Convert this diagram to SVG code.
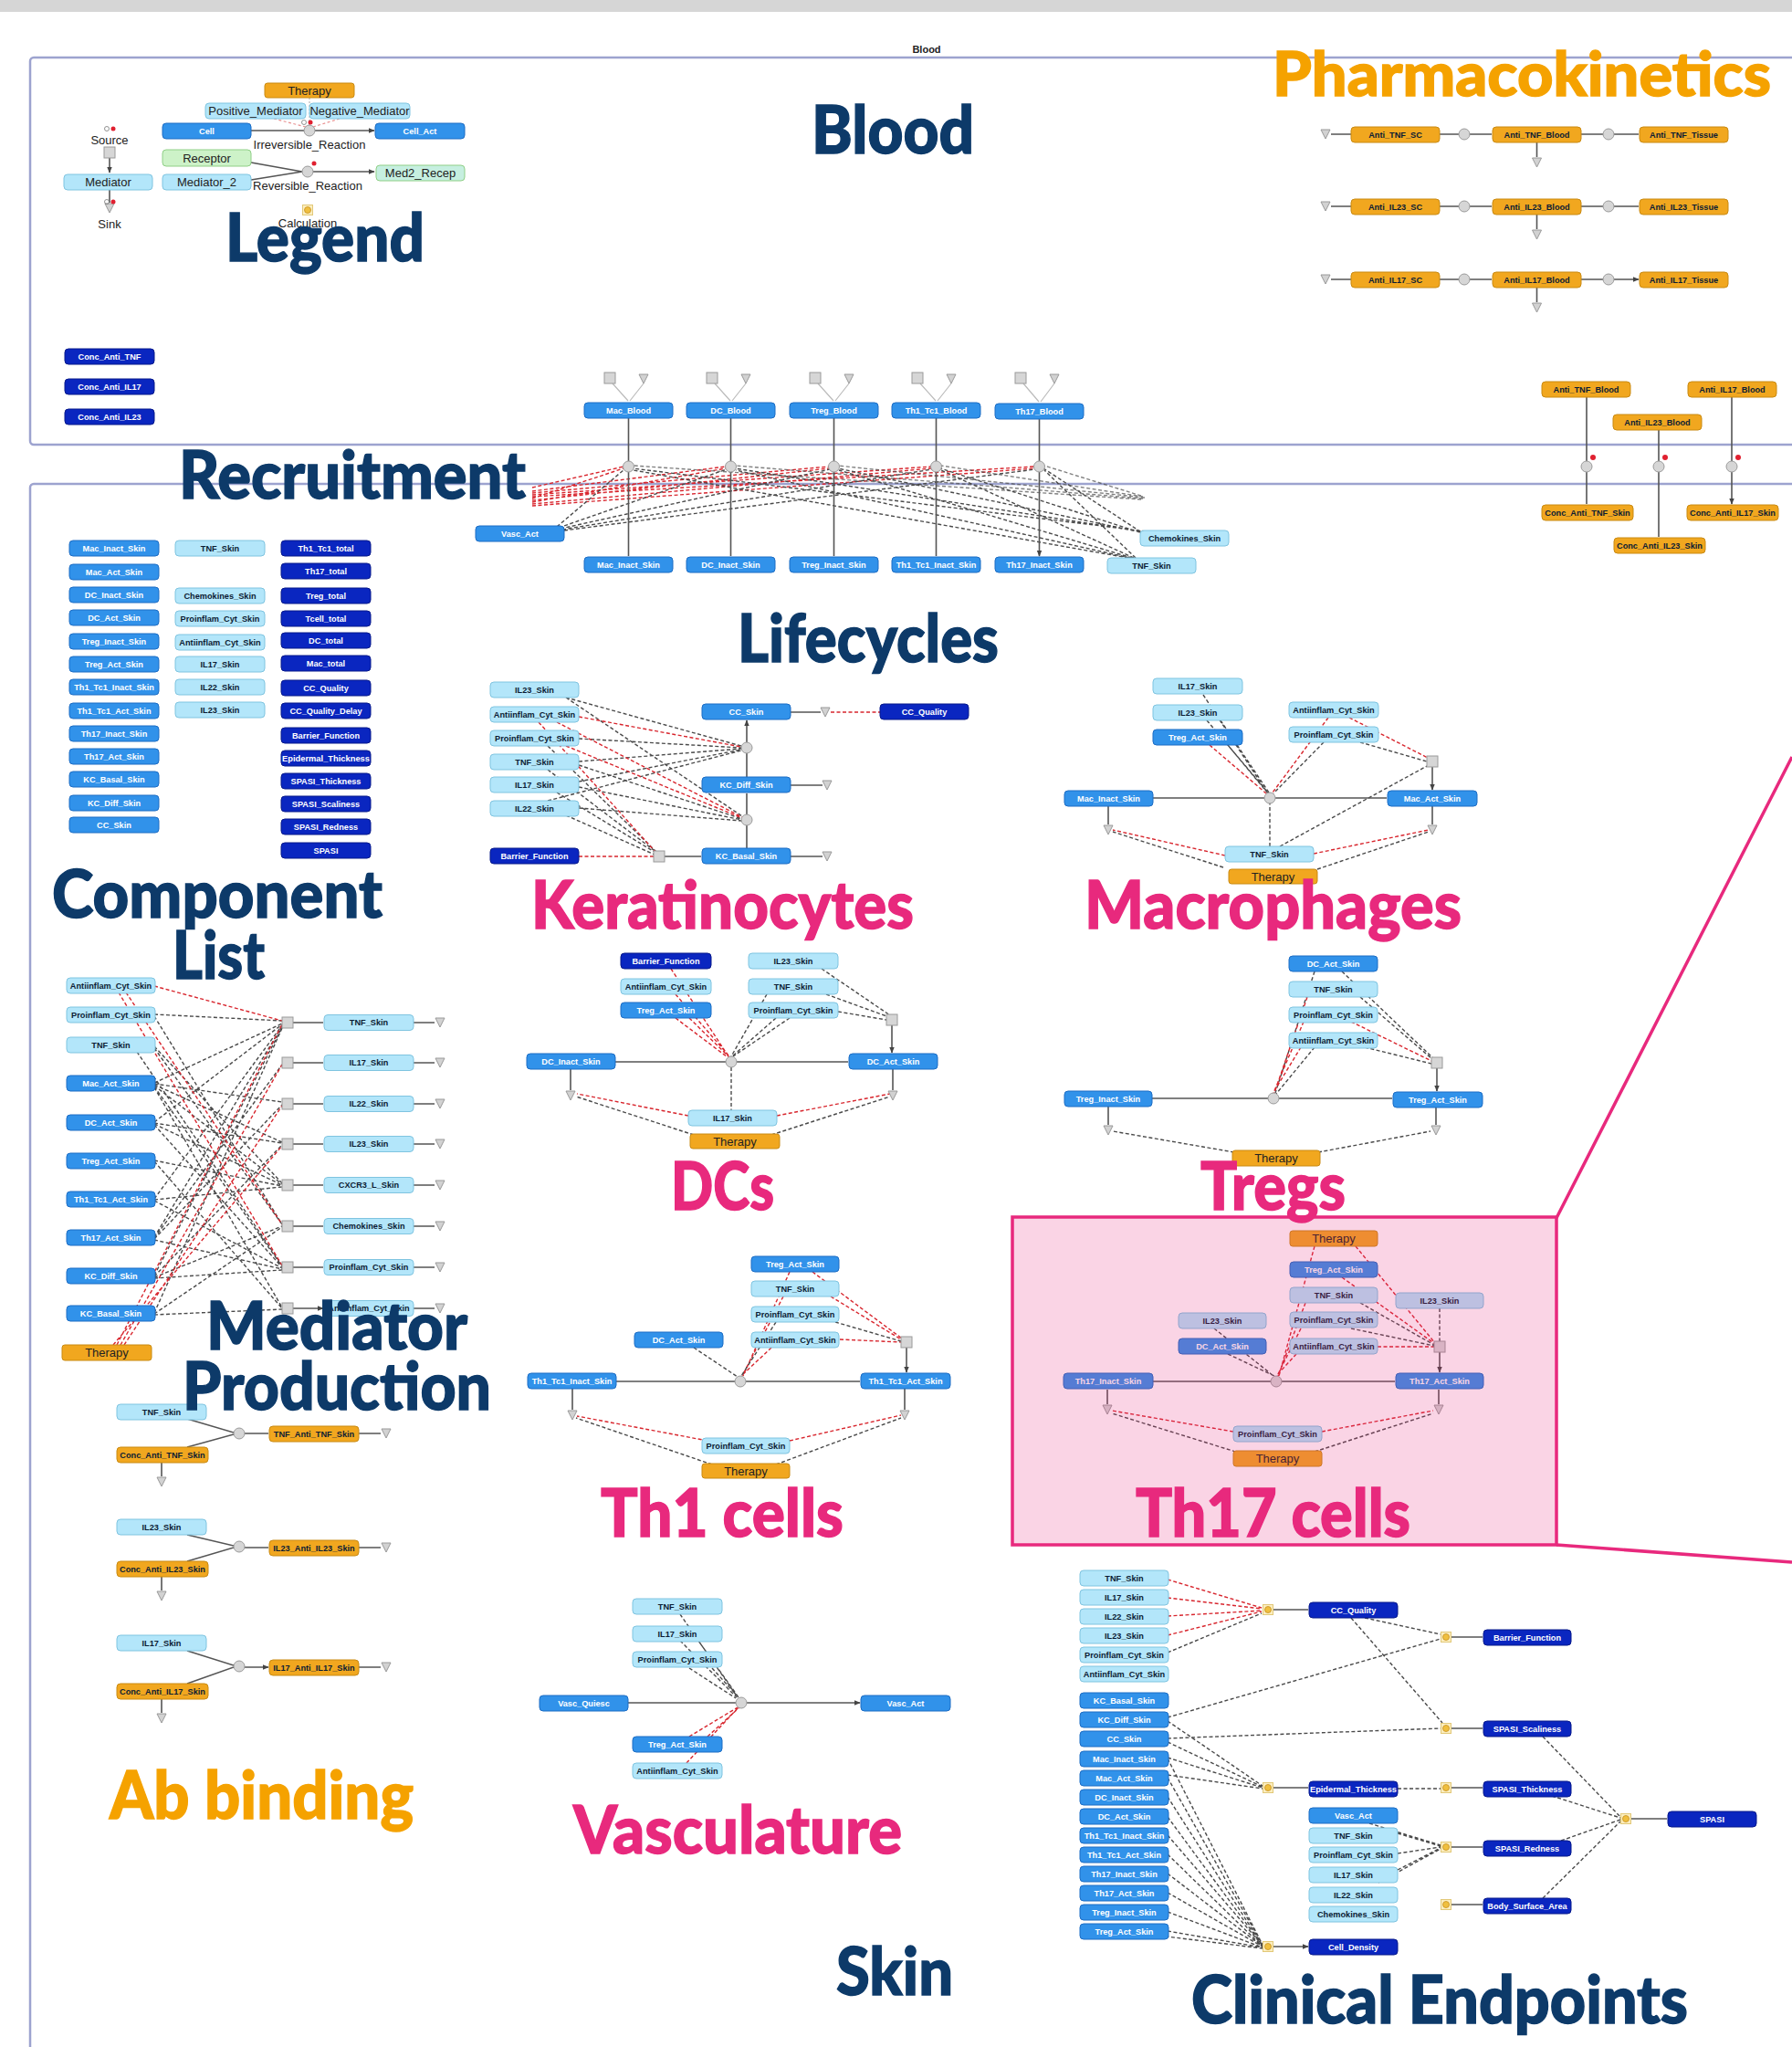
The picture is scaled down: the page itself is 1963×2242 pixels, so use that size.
<svg xmlns="http://www.w3.org/2000/svg" xmlns:xlink="http://www.w3.org/1999/xlink" width="1963" height="2242" viewBox="0 0 1963 2242">
<defs>
<style>
.lb{fill:#b3e6fa;stroke:#7fc4e0;stroke-width:1}
.mb{fill:#3192ea;stroke:#1c6cc4;stroke-width:1}
.db{fill:#0a26c0;stroke:#06188a;stroke-width:1}
.or{fill:#f1a71f;stroke:#c98a12;stroke-width:1}
.gn{fill:#cdf2c8;stroke:#8fcf86;stroke-width:1}
text.n{font-family:"Liberation Sans",Arial,sans-serif;font-weight:700;font-size:9.2px;text-anchor:middle;dominant-baseline:central}
.w{fill:#ffffff}
.k{fill:#0c1c34}
.lg{font-family:"Liberation Sans",Arial,sans-serif;font-size:13px;fill:#222;text-anchor:middle;dominant-baseline:central}
.sl{fill:none;stroke:#555;stroke-width:1.6}
.dk{fill:none;stroke:#4a4a4a;stroke-width:1.4;stroke-dasharray:4 2.5}
.dr{fill:none;stroke:#d8262e;stroke-width:1.4;stroke-dasharray:4 2.5}
.dp{fill:none;stroke:#e89090;stroke-width:1.2;stroke-dasharray:3 2.5}
.jn{fill:#d6d6d6;stroke:#9a9a9a;stroke-width:1}
.ti{font-family:Lato,"Open Sans",sans-serif;font-weight:900;font-size:72px;stroke-width:1.4}
.nv{fill:#0d3a69;stroke:#0d3a69}
.pk{fill:#e8297d;stroke:#e8297d}
.og{fill:#f5a200;stroke:#f5a200}
.box{fill:none;stroke:#9da3cf;stroke-width:2.5}
</style>
<marker id="a" viewBox="0 0 10 10" refX="9" refY="5" markerWidth="7" markerHeight="7" orient="auto" markerUnits="userSpaceOnUse"><path d="M0 1L10 5L0 9Z" fill="#444"/></marker>
<symbol id="sk" viewBox="0 0 12 12"><path d="M1 1H11L6 11Z" fill="#d2d2d2" stroke="#999" stroke-width="1"/></symbol>
<symbol id="cc" viewBox="0 0 12 12"><rect x="0.5" y="0.5" width="11" height="11" fill="#fbeec0" stroke="#e2c878"/><circle cx="6" cy="6" r="3.5" fill="#f0c040" stroke="#c89020" stroke-width="0.8"/></symbol>
</defs>
<rect x="0" y="0" width="1963" height="2242" fill="#ffffff"/>
<rect x="0" y="0" width="1963" height="13" fill="#d6d6d6"/>
<rect class="box" x="33" y="63" width="2000" height="424" rx="4"/>
<rect class="box" x="33" y="530" width="2000" height="1800" rx="4"/>
<text x="1015" y="58" font-family="Liberation Sans,Arial,sans-serif" font-size="11" font-weight="700" fill="#222" text-anchor="middle">Blood</text>

<g id="connectors">
<!-- Legend -->
<path class="sl" d="M275 143H333M345 143H410" marker-end="url(#a)"/>
<path class="dp" d="M300 130L335 139M372 130L343 139"/>
<path d="M339 107V137" stroke="#aaa" stroke-width="1" stroke-dasharray="2 2" fill="none"/>
<path class="sl" d="M275 178L331 188M275 197L331 188M343 188H410" marker-end="url(#a)"/>
<path class="sl" d="M120 173V189" marker-end="url(#a)"/>
<path class="sl" d="M120 208V222"/>
<circle class="jn" cx="339" cy="143" r="6"/>
<circle class="jn" cx="337" cy="188" r="6"/>
<rect class="jn" x="114" y="161" width="12" height="12"/>
<use href="#sk" x="114" y="222" width="12" height="12"/>
<use href="#cc" x="331" y="224" width="12" height="12"/>
<circle cx="333" cy="134" r="2.5" fill="none" stroke="#777" stroke-width="0.8"/><circle cx="340" cy="134" r="2.5" fill="#e02030"/>
<circle cx="117" cy="141" r="2.5" fill="none" stroke="#777" stroke-width="0.8"/><circle cx="124" cy="141" r="2.5" fill="#e02030"/>
<circle cx="117" cy="221" r="2.5" fill="none" stroke="#777" stroke-width="0.8"/><circle cx="124" cy="221" r="2.5" fill="#e02030"/>
<circle cx="344" cy="179" r="2.5" fill="#e02030"/>

<!-- PK -->
<path class="sl" d="M1610 147H1634M1768 147H1795M1610 226H1634M1768 226H1795M1610 306H1634M1768 306H1795" marker-end="url(#a)"/>
<path class="sl" d="M1458 147H1480M1577 147H1598M1732 147H1756M1458 226H1480M1577 226H1598M1732 226H1756M1458 306H1480M1577 306H1598M1732 306H1756"/>
<path class="sl" d="M1683.5 156V172M1683.5 235V251M1683.5 315V331"/>
<use href="#sk" x="1446" y="141" width="12" height="12"/>
<use href="#sk" x="1446" y="220" width="12" height="12"/>
<use href="#sk" x="1446" y="300" width="12" height="12"/>
<use href="#sk" x="1677.5" y="172" width="12" height="12"/>
<use href="#sk" x="1677.5" y="251" width="12" height="12"/>
<use href="#sk" x="1677.5" y="331" width="12" height="12"/>
<circle class="jn" cx="1604" cy="147" r="6"/><circle class="jn" cx="1762" cy="147" r="6"/>
<circle class="jn" cx="1604" cy="226" r="6"/><circle class="jn" cx="1762" cy="226" r="6"/>
<circle class="jn" cx="1604" cy="306" r="6"/><circle class="jn" cx="1762" cy="306" r="6"/>
<path class="sl" d="M1738 435V505M1738 517V552M1817 471V505M1817 517V588M1897 435V505M1897 517V552" marker-end="url(#a)"/>
<circle class="jn" cx="1738" cy="511" r="6"/><circle class="jn" cx="1817" cy="511" r="6"/><circle class="jn" cx="1897" cy="511" r="6"/>
<circle cx="1745" cy="501" r="3" fill="#e02030"/><circle cx="1824" cy="501" r="3" fill="#e02030"/><circle cx="1904" cy="501" r="3" fill="#e02030"/>

<!-- Recruitment -->
<path class="dr" d="M583 534L683 511M583 546L683 513M583 538L795 511M583 550L795 513M583 540L908 511M583 548L908 513M583 542L1020 511M583 552L1020 513M583 544L1133 511M583 554L1133 513"/>
<path class="dk" d="M610 577L684 514M612 578L796 514M614 579L909 514M616 580L1021 514M618 581L1134 514"/>
<path class="dk" d="M1255 582L693 513M1255 583L805 513M1255 584L918 513M1255 585L1030 513M1255 586L1143 513"/>
<path class="dk" d="M1236 611L694 515M1238 611L806 515M1240 611L919 515M1242 611L1031 515M1244 611L1144 515"/>
<path class="dk" d="M1250 547L694 510M1252 546L806 510M1254 545L918 510M1252 544L1031 510M1250 543L1144 510" opacity="0.7"/>
<path class="sl" d="M688.5 458V609M800.5 458V609M913.5 458V609M1025.5 458V609M1138.5 459V609" marker-end="url(#a)"/>
<path d="M671 420L688 439M705 420L690 439M783 420L800 439M817 420L802 439M896 420L913 439M930 420L915 439M1008 420L1025 439M1042 420L1027 439M1121 420L1138 440M1155 420L1140 440" stroke="#bbb" stroke-width="1.2" fill="none"/>
<rect class="jn" x="662" y="408" width="12" height="12"/><use href="#sk" x="699" y="409" width="12" height="12"/>
<rect class="jn" x="774" y="408" width="12" height="12"/><use href="#sk" x="811" y="409" width="12" height="12"/>
<rect class="jn" x="887" y="408" width="12" height="12"/><use href="#sk" x="924" y="409" width="12" height="12"/>
<rect class="jn" x="999" y="408" width="12" height="12"/><use href="#sk" x="1036" y="409" width="12" height="12"/>
<rect class="jn" x="1112" y="408" width="12" height="12"/><use href="#sk" x="1149" y="409" width="12" height="12"/>
<circle class="jn" cx="688.5" cy="511" r="6"/><circle class="jn" cx="800.5" cy="511" r="6"/><circle class="jn" cx="913.5" cy="511" r="6"/><circle class="jn" cx="1025.5" cy="511" r="6"/><circle class="jn" cx="1138.5" cy="511" r="6"/>

<!-- Keratinocytes -->
<path class="dk" d="M620 764L812 817M620 764L813 894M634 809L812 819M600 817L719 933M634 834L812 820M634 838L813 897M600 843L720 934M634 856L812 821M634 862L813 898M610 868L720 935M600 877L812 822M634 885L813 899M620 893L717 936"/>
<path class="dr" d="M634 785L812 818M610 791L813 895M590 791L718 933M620 817L813 896M634 938L716 938M910 780L964 780"/>
<path class="sl" d="M728 938H768M818 929V904M818 892V869M818 851V825M818 813V789" marker-end="url(#a)"/>
<path class="sl" d="M866 780H899M866 860H901M866 938H901"/>
<circle class="jn" cx="818" cy="819" r="6"/><circle class="jn" cx="818" cy="898" r="6"/>
<rect class="jn" x="716" y="932" width="12" height="12"/>
<use href="#sk" x="898" y="774" width="12" height="12"/>
<use href="#sk" x="900" y="854" width="12" height="12"/>
<use href="#sk" x="900" y="932" width="12" height="12"/>

<!-- Macrophages -->
<path class="dk" d="M1318 761L1388 868M1322 789L1389 868M1337 789L1390 868M1345 816L1389 869M1450 813L1395 869M1490 813L1563 834M1402 927L1565 838M1391 927V880M1340 950L1219 911M1443 952L1565 911"/>
<path class="dr" d="M1325 816L1387 869M1455 786L1394 868M1478 786L1564 830M1342 937L1219 909M1439 935L1565 909"/>
<path class="sl" d="M1263 874H1385M1397 874H1519M1569 840V865" marker-end="url(#a)"/>
<path class="sl" d="M1214 883V903M1569 883V903"/>
<circle class="jn" cx="1391" cy="874" r="6"/>
<rect class="jn" x="1563" y="828" width="12" height="12"/>
<use href="#sk" x="1208" y="903" width="12" height="12"/>
<use href="#sk" x="1563" y="903" width="12" height="12"/>

<!-- DCs -->
<path class="dr" d="M735 1061L798 1157M740 1089L799 1157M740 1115L797 1158M755 1115L799 1158M754 1222L632 1198M851 1222L975 1198"/>
<path class="dk" d="M850 1115L802 1157M865 1115L803 1157M840 1089L801 1157M900 1061L975 1112M905 1089L974 1114M918 1108L971 1117M801 1169V1216M760 1243L631 1201M845 1243L975 1201"/>
<path class="sl" d="M674 1163H795M807 1163H929M977 1123V1153" marker-end="url(#a)"/>
<path class="sl" d="M625 1171V1194M978 1171V1194"/>
<circle class="jn" cx="801" cy="1163" r="6"/>
<rect class="jn" x="971" y="1111" width="12" height="12"/>
<use href="#sk" x="619" y="1194" width="12" height="12"/>
<use href="#sk" x="972" y="1194" width="12" height="12"/>

<!-- Tregs -->
<path class="dk" d="M1440 1064L1397 1197M1440 1147L1398 1198M1470 1064L1570 1159M1490 1092L1569 1160M1495 1147L1568 1165M1352 1262L1219 1239M1444 1262L1567 1239"/>
<path class="dr" d="M1432 1092L1396 1197M1428 1119L1395 1197M1425 1147L1394 1198M1480 1119L1568 1162"/>
<path class="sl" d="M1262 1203H1389M1401 1203H1525M1574 1170V1195" marker-end="url(#a)"/>
<path class="sl" d="M1214 1212V1232M1573 1213V1232"/>
<circle class="jn" cx="1395" cy="1203" r="6"/>
<rect class="jn" x="1568" y="1158" width="12" height="12"/>
<use href="#sk" x="1208" y="1232" width="12" height="12"/>
<use href="#sk" x="1567" y="1232" width="12" height="12"/>

<!-- Th1 -->
<path class="dr" d="M865 1393L814 1507M858 1420L813 1507M845 1476L812 1507M890 1393L988 1466M910 1420L987 1467M920 1467L987 1470M775 1578L632 1551M865 1578L987 1550"/>
<path class="dk" d="M850 1448L812 1507M760 1476L808 1508M915 1448L987 1469M780 1604L631 1553M850 1604L987 1553"/>
<path class="sl" d="M675 1513H805M817 1513H942M993 1476V1503" marker-end="url(#a)"/>
<path class="sl" d="M627 1521V1544M991 1521V1544"/>
<circle class="jn" cx="811" cy="1513" r="6"/>
<rect class="jn" x="987" y="1464" width="12" height="12"/>
<use href="#sk" x="621" y="1544" width="12" height="12"/>
<use href="#sk" x="985" y="1544" width="12" height="12"/>

<!-- Th17 -->
<path class="dr" d="M1440 1365L1401 1507M1485 1365L1572 1471M1470 1399L1572 1472M1509 1475L1571 1475M1430 1427L1400 1507M1425 1455L1399 1507M1420 1483L1398 1507M1351 1568L1218 1545M1448 1568L1570 1545"/>
<path class="dk" d="M1490 1427L1571 1473M1480 1455L1571 1474M1577 1433V1469M1330 1455L1395 1507M1345 1483L1396 1507M1360 1592L1218 1548M1440 1590L1570 1548"/>
<path class="sl" d="M1263 1513H1392M1404 1513H1528M1577 1481V1503" marker-end="url(#a)"/>
<path class="sl" d="M1213 1522V1538M1576 1522V1538"/>
<circle class="jn" cx="1398" cy="1513" r="6"/>
<rect class="jn" x="1571" y="1469" width="12" height="12"/>
<use href="#sk" x="1207" y="1538" width="12" height="12"/>
<use href="#sk" x="1570" y="1538" width="12" height="12"/>

<!-- Vasculature -->
<path class="dk" d="M745 1768L808 1859M745 1797L807 1859M765 1797L809 1859M755 1827L806 1860M780 1827L809 1859"/>
<path class="dr" d="M755 1902L808 1870M775 1902L810 1870M752 1931L809 1870"/>
<path class="sl" d="M688 1865H806M818 1865H942" marker-end="url(#a)"/>
<circle class="jn" cx="812" cy="1865" r="6"/>

<!-- Mediator production -->
<path class="dk" d="M169 1111L309 1118M169 1113L309 1341M169 1146L309 1296M169 1148L309 1341M150 1152L309 1386M169 1186L309 1121M169 1187L309 1207M169 1188L309 1251M169 1189L309 1297M169 1190L309 1387M169 1191L309 1432M169 1229L309 1122M169 1230L309 1252M169 1231L309 1298M169 1232L309 1388M169 1271L309 1299M169 1272L309 1433M169 1313L309 1123M169 1314L309 1300M169 1315L309 1389M169 1355L309 1124M169 1356L309 1166M169 1357L309 1210M169 1358L309 1390M169 1397L309 1125M169 1398L309 1254M169 1399L309 1343M169 1400L309 1391M169 1438L309 1126M169 1439L309 1344M169 1440L309 1434"/>
<path class="dr" d="M169 1080L309 1118M130 1087L309 1386M138 1087L309 1341M128 1473L309 1122M132 1473L309 1166M136 1473L309 1211M124 1473L309 1255"/>
<path class="sl" d="M321 1120H354M321 1164H354M321 1209H354M321 1253H354M321 1298H354M321 1343H354M321 1388H354M321 1433H354" marker-end="url(#a)"/>
<path class="sl" d="M453 1120H476M453 1164H476M453 1209H476M453 1253H476M453 1298H476M453 1343H476M453 1388H476M453 1433H476"/>
<rect class="jn" x="309" y="1114" width="12" height="12"/><rect class="jn" x="309" y="1158" width="12" height="12"/><rect class="jn" x="309" y="1203" width="12" height="12"/><rect class="jn" x="309" y="1247" width="12" height="12"/><rect class="jn" x="309" y="1292" width="12" height="12"/><rect class="jn" x="309" y="1337" width="12" height="12"/><rect class="jn" x="309" y="1382" width="12" height="12"/><rect class="jn" x="309" y="1427" width="12" height="12"/>
<use href="#sk" x="476" y="1114" width="12" height="12"/><use href="#sk" x="476" y="1158" width="12" height="12"/><use href="#sk" x="476" y="1203" width="12" height="12"/><use href="#sk" x="476" y="1247" width="12" height="12"/><use href="#sk" x="476" y="1292" width="12" height="12"/><use href="#sk" x="476" y="1337" width="12" height="12"/><use href="#sk" x="476" y="1382" width="12" height="12"/><use href="#sk" x="476" y="1427" width="12" height="12"/>

<!-- Ab binding -->
<path class="sl" d="M205 1554L256 1569M205 1585L256 1571M205 1681L256 1693M205 1710L256 1695M205 1808L256 1824M205 1844L256 1826"/>
<path class="sl" d="M268 1570H294M268 1695H294M268 1826H294" marker-end="url(#a)"/>
<path class="sl" d="M393 1570H417M393 1695H417M393 1826H417M177 1602V1617M177 1727V1742M177 1861V1876"/>
<circle class="jn" cx="262" cy="1570" r="6"/><circle class="jn" cx="262" cy="1694" r="6"/><circle class="jn" cx="262" cy="1825" r="6"/>
<use href="#sk" x="417" y="1564" width="12" height="12"/><use href="#sk" x="417" y="1689" width="12" height="12"/><use href="#sk" x="417" y="1820" width="12" height="12"/>
<use href="#sk" x="171" y="1617" width="12" height="12"/><use href="#sk" x="171" y="1742" width="12" height="12"/><use href="#sk" x="171" y="1876" width="12" height="12"/>

<!-- Clinical endpoints -->
<path class="dr" d="M1279 1730L1382 1761M1279 1750L1382 1762M1279 1770L1382 1764M1279 1791L1382 1765"/>
<path class="dk" d="M1279 1810L1382 1767M1495 1772L1578 1790M1279 1881L1578 1795M1480 1772L1580 1887M1279 1904L1578 1893M1279 1885L1383 1956M1279 1908L1383 1957M1279 1925L1383 1958M1279 1944L1383 1959M1531 1959H1578M1500 1997L1578 2021M1531 2008L1578 2022M1531 2030L1578 2023M1531 2048L1578 2024M1510 2062L1578 2025M1690 1902L1775 1990M1700 1967L1775 1991M1710 2016L1775 1993M1690 2079L1775 1995M1279 1926L1383 2130M1279 1947L1383 2130M1279 1968L1383 2131M1279 1990L1383 2131M1279 2010L1383 2131M1279 2031L1383 2132M1279 2052L1383 2132M1279 2073L1383 2132M1279 2094L1383 2133M1279 2115L1383 2133M1270 2120L1383 2134"/>
<path class="sl" d="M1395 1763H1433M1590 1793H1624M1590 1893H1624M1395 1958H1433M1590 1958H1624M1590 2023H1624M1590 2086H1624M1787 1992H1826M1395 2132H1433" marker-end="url(#a)"/>
<use href="#cc" x="1383" y="1757" width="12" height="12"/>
<use href="#cc" x="1578" y="1787" width="12" height="12"/>
<use href="#cc" x="1578" y="1887" width="12" height="12"/>
<use href="#cc" x="1383" y="1952" width="12" height="12"/>
<use href="#cc" x="1578" y="1952" width="12" height="12"/>
<use href="#cc" x="1578" y="2017" width="12" height="12"/>
<use href="#cc" x="1578" y="2080" width="12" height="12"/>
<use href="#cc" x="1775" y="1986" width="12" height="12"/>
<use href="#cc" x="1383" y="2126" width="12" height="12"/>
</g>

<!-- ===== Legend nodes ===== -->
<g id="lg-therapy"><rect class="or" x="290" y="91" width="98" height="16" rx="3"/><text class="lg" x="339" y="99">Therapy</text></g>
<g id="lg-pos"><rect class="lb" x="225" y="113" width="110" height="17" rx="4"/><text class="lg" x="280" y="121.5">Positive_Mediator</text></g>
<g id="lg-neg"><rect class="lb" x="339" y="113" width="110" height="17" rx="4"/><text class="lg" x="394" y="121.5">Negative_Mediator</text></g>
<g id="lg-cell"><rect class="mb" x="178" y="135" width="97" height="17" rx="4"/><text class="n w" x="226.5" y="143.5">Cell</text></g>
<g id="lg-cellact"><rect class="mb" x="411" y="135" width="98" height="17" rx="4"/><text class="n w" x="460" y="143.5">Cell_Act</text></g>
<text class="lg" x="339" y="158">Irreversible_Reaction</text>
<g id="lg-rec"><rect class="gn" x="178" y="164" width="97" height="18" rx="4"/><text class="lg" x="226.5" y="173">Receptor</text></g>
<g id="lg-med2"><rect class="lb" x="178" y="191" width="97" height="17" rx="4"/><text class="lg" x="226.5" y="199.5">Mediator_2</text></g>
<g id="lg-med2rec"><rect x="412" y="181" width="97" height="17" rx="4" fill="#c6efe0" stroke="#8fcf86"/><text class="lg" x="460.5" y="189.5">Med2_Recep</text></g>
<text class="lg" x="337" y="203">Reversible_Reaction</text>
<text class="lg" x="337" y="244" font-size="11.5">Calculation</text>
<text class="lg" x="120" y="153">Source</text>
<g id="lg-med"><rect class="lb" x="70" y="191" width="97" height="17" rx="4"/><text class="lg" x="118.5" y="199.5">Mediator</text></g>
<text class="lg" x="120" y="245" font-size="11.5">Sink</text>
<g id="conc-tnf"><rect class="db" x="71" y="382" width="98" height="17" rx="4"/><text class="n w" x="120" y="390.5">Conc_Anti_TNF</text></g>
<g id="conc-il17"><rect class="db" x="71" y="415" width="98" height="17" rx="4"/><text class="n w" x="120" y="423.5">Conc_Anti_IL17</text></g>
<g id="conc-il23"><rect class="db" x="71" y="448" width="98" height="17" rx="4"/><text class="n w" x="120" y="456.5">Conc_Anti_IL23</text></g>

<!-- ===== PK nodes ===== -->
<g id="pk-tnf-sc"><rect class="or" x="1480" y="139" width="97" height="17" rx="4"/><text class="n k" x="1528.5" y="147.5">Anti_TNF_SC</text></g>
<g id="pk-tnf-bl"><rect class="or" x="1635" y="139" width="97" height="17" rx="4"/><text class="n k" x="1683.5" y="147.5">Anti_TNF_Blood</text></g>
<g id="pk-tnf-ti"><rect class="or" x="1796" y="139" width="97" height="17" rx="4"/><text class="n k" x="1844.5" y="147.5">Anti_TNF_Tissue</text></g>
<g id="pk-il23-sc"><rect class="or" x="1480" y="218" width="97" height="17" rx="4"/><text class="n k" x="1528.5" y="226.5">Anti_IL23_SC</text></g>
<g id="pk-il23-bl"><rect class="or" x="1635" y="218" width="97" height="17" rx="4"/><text class="n k" x="1683.5" y="226.5">Anti_IL23_Blood</text></g>
<g id="pk-il23-ti"><rect class="or" x="1796" y="218" width="97" height="17" rx="4"/><text class="n k" x="1844.5" y="226.5">Anti_IL23_Tissue</text></g>
<g id="pk-il17-sc"><rect class="or" x="1480" y="298" width="97" height="17" rx="4"/><text class="n k" x="1528.5" y="306.5">Anti_IL17_SC</text></g>
<g id="pk-il17-bl"><rect class="or" x="1635" y="298" width="97" height="17" rx="4"/><text class="n k" x="1683.5" y="306.5">Anti_IL17_Blood</text></g>
<g id="pk-il17-ti"><rect class="or" x="1796" y="298" width="97" height="17" rx="4"/><text class="n k" x="1844.5" y="306.5">Anti_IL17_Tissue</text></g>
<g id="pk2-tnf-bl"><rect class="or" x="1689" y="418" width="97" height="17" rx="4"/><text class="n k" x="1737.5" y="426.5">Anti_TNF_Blood</text></g>
<g id="pk2-il17-bl"><rect class="or" x="1849" y="418" width="97" height="17" rx="4"/><text class="n k" x="1897.5" y="426.5">Anti_IL17_Blood</text></g>
<g id="pk2-il23-bl"><rect class="or" x="1767" y="454" width="97" height="17" rx="4"/><text class="n k" x="1815.5" y="462.5">Anti_IL23_Blood</text></g>
<g id="pk2-conc-tnf"><rect class="or" x="1689" y="553" width="100" height="17" rx="4"/><text class="n k" x="1739" y="561.5">Conc_Anti_TNF_Skin</text></g>
<g id="pk2-conc-il17"><rect class="or" x="1848" y="553" width="100" height="17" rx="4"/><text class="n k" x="1898" y="561.5">Conc_Anti_IL17_Skin</text></g>
<g id="pk2-conc-il23"><rect class="or" x="1768" y="589" width="100" height="17" rx="4"/><text class="n k" x="1818" y="597.5">Conc_Anti_IL23_Skin</text></g>

<!-- ===== Recruitment nodes ===== -->
<g id="rc-mac-bl"><rect class="mb" x="640" y="441" width="97" height="17" rx="4"/><text class="n w" x="688.5" y="449.5">Mac_Blood</text></g>
<g id="rc-dc-bl"><rect class="mb" x="752" y="441" width="97" height="17" rx="4"/><text class="n w" x="800.5" y="449.5">DC_Blood</text></g>
<g id="rc-treg-bl"><rect class="mb" x="865" y="441" width="97" height="17" rx="4"/><text class="n w" x="913.5" y="449.5">Treg_Blood</text></g>
<g id="rc-th1-bl"><rect class="mb" x="977" y="441" width="97" height="17" rx="4"/><text class="n w" x="1025.5" y="449.5">Th1_Tc1_Blood</text></g>
<g id="rc-th17-bl"><rect class="mb" x="1090" y="442" width="97" height="17" rx="4"/><text class="n w" x="1138.5" y="450.5">Th17_Blood</text></g>
<g id="rc-mac-in"><rect class="mb" x="640" y="610" width="97" height="17" rx="4"/><text class="n w" x="688.5" y="618.5">Mac_Inact_Skin</text></g>
<g id="rc-dc-in"><rect class="mb" x="752" y="610" width="97" height="17" rx="4"/><text class="n w" x="800.5" y="618.5">DC_Inact_Skin</text></g>
<g id="rc-treg-in"><rect class="mb" x="865" y="610" width="97" height="17" rx="4"/><text class="n w" x="913.5" y="618.5">Treg_Inact_Skin</text></g>
<g id="rc-th1-in"><rect class="mb" x="977" y="610" width="97" height="17" rx="4"/><text class="n w" x="1025.5" y="618.5">Th1_Tc1_Inact_Skin</text></g>
<g id="rc-th17-in"><rect class="mb" x="1090" y="610" width="97" height="17" rx="4"/><text class="n w" x="1138.5" y="618.5">Th17_Inact_Skin</text></g>
<g id="rc-vasc"><rect class="mb" x="521" y="576" width="97" height="17" rx="4"/><text class="n w" x="569.5" y="584.5">Vasc_Act</text></g>
<g id="rc-chem"><rect class="lb" x="1249" y="581" width="97" height="17" rx="4"/><text class="n k" x="1297.5" y="589.5">Chemokines_Skin</text></g>
<g id="rc-tnf"><rect class="lb" x="1213" y="611" width="97" height="17" rx="4"/><text class="n k" x="1261.5" y="619.5">TNF_Skin</text></g>

<!-- ===== Component list ===== -->
<g id="cl-1"><rect class="mb" x="76" y="592" width="98" height="17" rx="4"/><text class="n w" x="125" y="600.5">Mac_Inact_Skin</text></g>
<g id="cl-2"><rect class="mb" x="76" y="618" width="98" height="17" rx="4"/><text class="n w" x="125" y="626.5">Mac_Act_Skin</text></g>
<g id="cl-3"><rect class="mb" x="76" y="643" width="98" height="17" rx="4"/><text class="n w" x="125" y="651.5">DC_Inact_Skin</text></g>
<g id="cl-4"><rect class="mb" x="76" y="668" width="98" height="17" rx="4"/><text class="n w" x="125" y="676.5">DC_Act_Skin</text></g>
<g id="cl-5"><rect class="mb" x="76" y="694" width="98" height="17" rx="4"/><text class="n w" x="125" y="702.5">Treg_Inact_Skin</text></g>
<g id="cl-6"><rect class="mb" x="76" y="719" width="98" height="17" rx="4"/><text class="n w" x="125" y="727.5">Treg_Act_Skin</text></g>
<g id="cl-7"><rect class="mb" x="76" y="744" width="98" height="17" rx="4"/><text class="n w" x="125" y="752.5">Th1_Tc1_Inact_Skin</text></g>
<g id="cl-8"><rect class="mb" x="76" y="770" width="98" height="17" rx="4"/><text class="n w" x="125" y="778.5">Th1_Tc1_Act_Skin</text></g>
<g id="cl-9"><rect class="mb" x="76" y="795" width="98" height="17" rx="4"/><text class="n w" x="125" y="803.5">Th17_Inact_Skin</text></g>
<g id="cl-10"><rect class="mb" x="76" y="820" width="98" height="17" rx="4"/><text class="n w" x="125" y="828.5">Th17_Act_Skin</text></g>
<g id="cl-11"><rect class="mb" x="76" y="845" width="98" height="17" rx="4"/><text class="n w" x="125" y="853.5">KC_Basal_Skin</text></g>
<g id="cl-12"><rect class="mb" x="76" y="871" width="98" height="17" rx="4"/><text class="n w" x="125" y="879.5">KC_Diff_Skin</text></g>
<g id="cl-13"><rect class="mb" x="76" y="895" width="98" height="17" rx="4"/><text class="n w" x="125" y="903.5">CC_Skin</text></g>
<g id="cl-14"><rect class="lb" x="192" y="592" width="98" height="17" rx="4"/><text class="n k" x="241" y="600.5">TNF_Skin</text></g>
<g id="cl-15"><rect class="lb" x="192" y="644" width="98" height="17" rx="4"/><text class="n k" x="241" y="652.5">Chemokines_Skin</text></g>
<g id="cl-16"><rect class="lb" x="192" y="669" width="98" height="17" rx="4"/><text class="n k" x="241" y="677.5">Proinflam_Cyt_Skin</text></g>
<g id="cl-17"><rect class="lb" x="192" y="695" width="98" height="17" rx="4"/><text class="n k" x="241" y="703.5">Antiinflam_Cyt_Skin</text></g>
<g id="cl-18"><rect class="lb" x="192" y="719" width="98" height="17" rx="4"/><text class="n k" x="241" y="727.5">IL17_Skin</text></g>
<g id="cl-19"><rect class="lb" x="192" y="744" width="98" height="17" rx="4"/><text class="n k" x="241" y="752.5">IL22_Skin</text></g>
<g id="cl-20"><rect class="lb" x="192" y="769" width="98" height="17" rx="4"/><text class="n k" x="241" y="777.5">IL23_Skin</text></g>
<g id="cl-21"><rect class="db" x="308" y="592" width="98" height="17" rx="4"/><text class="n w" x="357" y="600.5">Th1_Tc1_total</text></g>
<g id="cl-22"><rect class="db" x="308" y="617" width="98" height="17" rx="4"/><text class="n w" x="357" y="625.5">Th17_total</text></g>
<g id="cl-23"><rect class="db" x="308" y="644" width="98" height="17" rx="4"/><text class="n w" x="357" y="652.5">Treg_total</text></g>
<g id="cl-24"><rect class="db" x="308" y="669" width="98" height="17" rx="4"/><text class="n w" x="357" y="677.5">Tcell_total</text></g>
<g id="cl-25"><rect class="db" x="308" y="693" width="98" height="17" rx="4"/><text class="n w" x="357" y="701.5">DC_total</text></g>
<g id="cl-26"><rect class="db" x="308" y="718" width="98" height="17" rx="4"/><text class="n w" x="357" y="726.5">Mac_total</text></g>
<g id="cl-27"><rect class="db" x="308" y="745" width="98" height="17" rx="4"/><text class="n w" x="357" y="753.5">CC_Quality</text></g>
<g id="cl-28"><rect class="db" x="308" y="770" width="98" height="17" rx="4"/><text class="n w" x="357" y="778.5">CC_Quality_Delay</text></g>
<g id="cl-29"><rect class="db" x="308" y="797" width="98" height="17" rx="4"/><text class="n w" x="357" y="805.5">Barrier_Function</text></g>
<g id="cl-30"><rect class="db" x="308" y="822" width="98" height="17" rx="4"/><text class="n w" x="357" y="830.5" textLength="96" lengthAdjust="spacingAndGlyphs">Epidermal_Thickness</text></g>
<g id="cl-31"><rect class="db" x="308" y="847" width="98" height="17" rx="4"/><text class="n w" x="357" y="855.5">SPASI_Thickness</text></g>
<g id="cl-32"><rect class="db" x="308" y="872" width="98" height="17" rx="4"/><text class="n w" x="357" y="880.5">SPASI_Scaliness</text></g>
<g id="cl-33"><rect class="db" x="308" y="897" width="98" height="17" rx="4"/><text class="n w" x="357" y="905.5">SPASI_Redness</text></g>
<g id="cl-34"><rect class="db" x="308" y="923" width="98" height="17" rx="4"/><text class="n w" x="357" y="931.5">SPASI</text></g>

<!-- ===== Keratinocytes ===== -->
<g id="kc-il23"><rect class="lb" x="537" y="747" width="97" height="17" rx="4"/><text class="n k" x="585.5" y="755.5">IL23_Skin</text></g>
<g id="kc-anti"><rect class="lb" x="537" y="774" width="97" height="17" rx="4"/><text class="n k" x="585.5" y="782.5">Antiinflam_Cyt_Skin</text></g>
<g id="kc-pro"><rect class="lb" x="537" y="800" width="97" height="17" rx="4"/><text class="n k" x="585.5" y="808.5">Proinflam_Cyt_Skin</text></g>
<g id="kc-tnf"><rect class="lb" x="537" y="826" width="97" height="17" rx="4"/><text class="n k" x="585.5" y="834.5">TNF_Skin</text></g>
<g id="kc-il17"><rect class="lb" x="537" y="851" width="97" height="17" rx="4"/><text class="n k" x="585.5" y="859.5">IL17_Skin</text></g>
<g id="kc-il22"><rect class="lb" x="537" y="877" width="97" height="17" rx="4"/><text class="n k" x="585.5" y="885.5">IL22_Skin</text></g>
<g id="kc-bf"><rect class="db" x="537" y="929" width="97" height="17" rx="4"/><text class="n w" x="585.5" y="937.5">Barrier_Function</text></g>
<g id="kc-cc"><rect class="mb" x="769" y="771" width="97" height="17" rx="4"/><text class="n w" x="817.5" y="779.5">CC_Skin</text></g>
<g id="kc-ccq"><rect class="db" x="964" y="771" width="97" height="17" rx="4"/><text class="n w" x="1012.5" y="779.5">CC_Quality</text></g>
<g id="kc-diff"><rect class="mb" x="769" y="851" width="97" height="17" rx="4"/><text class="n w" x="817.5" y="859.5">KC_Diff_Skin</text></g>
<g id="kc-basal"><rect class="mb" x="769" y="929" width="97" height="17" rx="4"/><text class="n w" x="817.5" y="937.5">KC_Basal_Skin</text></g>

<!-- ===== Macrophages ===== -->
<g id="ma-il17"><rect class="lb" x="1263" y="743" width="98" height="17" rx="4"/><text class="n k" x="1312" y="751.5">IL17_Skin</text></g>
<g id="ma-il23"><rect class="lb" x="1263" y="772" width="98" height="17" rx="4"/><text class="n k" x="1312" y="780.5">IL23_Skin</text></g>
<g id="ma-treg"><rect class="mb" x="1263" y="799" width="98" height="17" rx="4"/><text class="n w" x="1312" y="807.5">Treg_Act_Skin</text></g>
<g id="ma-anti"><rect class="lb" x="1412" y="769" width="98" height="17" rx="4"/><text class="n k" x="1461" y="777.5">Antiinflam_Cyt_Skin</text></g>
<g id="ma-pro"><rect class="lb" x="1412" y="796" width="98" height="17" rx="4"/><text class="n k" x="1461" y="804.5">Proinflam_Cyt_Skin</text></g>
<g id="ma-in"><rect class="mb" x="1166" y="866" width="97" height="17" rx="4"/><text class="n w" x="1214.5" y="874.5">Mac_Inact_Skin</text></g>
<g id="ma-act"><rect class="mb" x="1520" y="866" width="98" height="17" rx="4"/><text class="n w" x="1569" y="874.5">Mac_Act_Skin</text></g>
<g id="ma-tnf"><rect class="lb" x="1342" y="927" width="97" height="17" rx="4"/><text class="n k" x="1390.5" y="935.5">TNF_Skin</text></g>
<g id="ma-ther"><rect class="or" x="1346" y="952" width="97" height="16" rx="3"/><text class="lg" x="1394.5" y="960">Therapy</text></g>

<!-- ===== DCs ===== -->
<g id="dc-bf"><rect class="db" x="680" y="1044" width="99" height="17" rx="4"/><text class="n w" x="729.5" y="1052.5">Barrier_Function</text></g>
<g id="dc-anti"><rect class="lb" x="680" y="1072" width="99" height="17" rx="4"/><text class="n k" x="729.5" y="1080.5">Antiinflam_Cyt_Skin</text></g>
<g id="dc-treg"><rect class="mb" x="680" y="1098" width="99" height="17" rx="4"/><text class="n w" x="729.5" y="1106.5">Treg_Act_Skin</text></g>
<g id="dc-il23"><rect class="lb" x="820" y="1044" width="98" height="17" rx="4"/><text class="n k" x="869" y="1052.5">IL23_Skin</text></g>
<g id="dc-tnf"><rect class="lb" x="820" y="1072" width="98" height="17" rx="4"/><text class="n k" x="869" y="1080.5">TNF_Skin</text></g>
<g id="dc-pro"><rect class="lb" x="820" y="1098" width="98" height="17" rx="4"/><text class="n k" x="869" y="1106.5">Proinflam_Cyt_Skin</text></g>
<g id="dc-in"><rect class="mb" x="577" y="1154" width="97" height="17" rx="4"/><text class="n w" x="625.5" y="1162.5">DC_Inact_Skin</text></g>
<g id="dc-act"><rect class="mb" x="930" y="1154" width="97" height="17" rx="4"/><text class="n w" x="978.5" y="1162.5">DC_Act_Skin</text></g>
<g id="dc-il17"><rect class="lb" x="754" y="1216" width="97" height="17" rx="4"/><text class="n k" x="802.5" y="1224.5">IL17_Skin</text></g>
<g id="dc-ther"><rect class="or" x="756" y="1242" width="98" height="16" rx="3"/><text class="lg" x="805" y="1250">Therapy</text></g>

<!-- ===== Tregs ===== -->
<g id="tr-dc"><rect class="mb" x="1412" y="1047" width="97" height="17" rx="4"/><text class="n w" x="1460.5" y="1055.5">DC_Act_Skin</text></g>
<g id="tr-tnf"><rect class="lb" x="1412" y="1075" width="97" height="17" rx="4"/><text class="n k" x="1460.5" y="1083.5">TNF_Skin</text></g>
<g id="tr-pro"><rect class="lb" x="1412" y="1103" width="97" height="17" rx="4"/><text class="n k" x="1460.5" y="1111.5">Proinflam_Cyt_Skin</text></g>
<g id="tr-anti"><rect class="lb" x="1412" y="1131" width="97" height="17" rx="4"/><text class="n k" x="1460.5" y="1139.5">Antiinflam_Cyt_Skin</text></g>
<g id="tr-in"><rect class="mb" x="1166" y="1195" width="96" height="17" rx="4"/><text class="n w" x="1214" y="1203.5">Treg_Inact_Skin</text></g>
<g id="tr-act"><rect class="mb" x="1526" y="1196" width="98" height="17" rx="4"/><text class="n w" x="1575" y="1204.5">Treg_Act_Skin</text></g>
<g id="tr-ther"><rect class="or" x="1350" y="1260" width="96" height="17" rx="3"/><text class="lg" x="1398" y="1268.5">Therapy</text></g>

<!-- ===== Th1 ===== -->
<g id="t1-treg"><rect class="mb" x="823" y="1376" width="96" height="17" rx="4"/><text class="n w" x="871" y="1384.5">Treg_Act_Skin</text></g>
<g id="t1-tnf"><rect class="lb" x="823" y="1403" width="96" height="17" rx="4"/><text class="n k" x="871" y="1411.5">TNF_Skin</text></g>
<g id="t1-pro"><rect class="lb" x="823" y="1431" width="96" height="17" rx="4"/><text class="n k" x="871" y="1439.5">Proinflam_Cyt_Skin</text></g>
<g id="t1-anti"><rect class="lb" x="823" y="1459" width="96" height="17" rx="4"/><text class="n k" x="871" y="1467.5">Antiinflam_Cyt_Skin</text></g>
<g id="t1-dc"><rect class="mb" x="695" y="1459" width="97" height="17" rx="4"/><text class="n w" x="743.5" y="1467.5">DC_Act_Skin</text></g>
<g id="t1-in"><rect class="mb" x="578" y="1504" width="97" height="17" rx="4"/><text class="n w" x="626.5" y="1512.5">Th1_Tc1_Inact_Skin</text></g>
<g id="t1-act"><rect class="mb" x="943" y="1504" width="98" height="17" rx="4"/><text class="n w" x="992" y="1512.5">Th1_Tc1_Act_Skin</text></g>
<g id="t1-pro2"><rect class="lb" x="769" y="1575" width="96" height="17" rx="4"/><text class="n k" x="817" y="1583.5">Proinflam_Cyt_Skin</text></g>
<g id="t1-ther"><rect class="or" x="769" y="1603" width="96" height="16" rx="3"/><text class="lg" x="817" y="1611">Therapy</text></g>

<!-- ===== Th17 ===== -->
<g id="t17-ther1"><rect class="or" x="1413" y="1348" width="96" height="17" rx="3"/><text class="lg" x="1461" y="1356.5">Therapy</text></g>
<g id="t17-treg"><rect class="mb" x="1413" y="1382" width="96" height="17" rx="4"/><text class="n w" x="1461" y="1390.5">Treg_Act_Skin</text></g>
<g id="t17-tnf"><rect class="lb" x="1413" y="1410" width="96" height="17" rx="4"/><text class="n k" x="1461" y="1418.5">TNF_Skin</text></g>
<g id="t17-pro"><rect class="lb" x="1413" y="1437" width="96" height="17" rx="4"/><text class="n k" x="1461" y="1445.5">Proinflam_Cyt_Skin</text></g>
<g id="t17-anti"><rect class="lb" x="1413" y="1466" width="96" height="17" rx="4"/><text class="n k" x="1461" y="1474.5">Antiinflam_Cyt_Skin</text></g>
<g id="t17-il23r"><rect class="lb" x="1529" y="1416" width="96" height="17" rx="4"/><text class="n k" x="1577" y="1424.5">IL23_Skin</text></g>
<g id="t17-il23l"><rect class="lb" x="1291" y="1438" width="96" height="17" rx="4"/><text class="n k" x="1339" y="1446.5">IL23_Skin</text></g>
<g id="t17-dc"><rect class="mb" x="1291" y="1466" width="96" height="17" rx="4"/><text class="n w" x="1339" y="1474.5">DC_Act_Skin</text></g>
<g id="t17-in"><rect class="mb" x="1165" y="1504" width="98" height="17" rx="4"/><text class="n w" x="1214" y="1512.5">Th17_Inact_Skin</text></g>
<g id="t17-act"><rect class="mb" x="1529" y="1504" width="96" height="17" rx="4"/><text class="n w" x="1577" y="1512.5">Th17_Act_Skin</text></g>
<g id="t17-pro2"><rect class="lb" x="1351" y="1562" width="97" height="17" rx="4"/><text class="n k" x="1399.5" y="1570.5">Proinflam_Cyt_Skin</text></g>
<g id="t17-ther2"><rect class="or" x="1351" y="1589" width="97" height="17" rx="3"/><text class="lg" x="1399.5" y="1597.5">Therapy</text></g>

<!-- ===== Vasculature ===== -->
<g id="va-tnf"><rect class="lb" x="693" y="1751" width="98" height="17" rx="4"/><text class="n k" x="742" y="1759.5">TNF_Skin</text></g>
<g id="va-il17"><rect class="lb" x="693" y="1781" width="98" height="17" rx="4"/><text class="n k" x="742" y="1789.5">IL17_Skin</text></g>
<g id="va-pro"><rect class="lb" x="693" y="1809" width="98" height="17" rx="4"/><text class="n k" x="742" y="1817.5">Proinflam_Cyt_Skin</text></g>
<g id="va-q"><rect class="mb" x="591" y="1857" width="97" height="17" rx="4"/><text class="n w" x="639.5" y="1865.5">Vasc_Quiesc</text></g>
<g id="va-act"><rect class="mb" x="943" y="1857" width="98" height="17" rx="4"/><text class="n w" x="992" y="1865.5">Vasc_Act</text></g>
<g id="va-treg"><rect class="mb" x="693" y="1902" width="98" height="17" rx="4"/><text class="n w" x="742" y="1910.5">Treg_Act_Skin</text></g>
<g id="va-anti"><rect class="lb" x="693" y="1931" width="98" height="17" rx="4"/><text class="n k" x="742" y="1939.5">Antiinflam_Cyt_Skin</text></g>

<!-- ===== Mediator production ===== -->
<g id="mp-l1"><rect class="lb" x="73" y="1071" width="97" height="17" rx="4"/><text class="n k" x="121.5" y="1079.5">Antiinflam_Cyt_Skin</text></g>
<g id="mp-l2"><rect class="lb" x="73" y="1103" width="97" height="17" rx="4"/><text class="n k" x="121.5" y="1111.5">Proinflam_Cyt_Skin</text></g>
<g id="mp-l3"><rect class="lb" x="73" y="1136" width="97" height="17" rx="4"/><text class="n k" x="121.5" y="1144.5">TNF_Skin</text></g>
<g id="mp-l4"><rect class="mb" x="73" y="1178" width="97" height="17" rx="4"/><text class="n w" x="121.5" y="1186.5">Mac_Act_Skin</text></g>
<g id="mp-l5"><rect class="mb" x="73" y="1221" width="97" height="17" rx="4"/><text class="n w" x="121.5" y="1229.5">DC_Act_Skin</text></g>
<g id="mp-l6"><rect class="mb" x="73" y="1263" width="97" height="17" rx="4"/><text class="n w" x="121.5" y="1271.5">Treg_Act_Skin</text></g>
<g id="mp-l7"><rect class="mb" x="73" y="1305" width="97" height="17" rx="4"/><text class="n w" x="121.5" y="1313.5">Th1_Tc1_Act_Skin</text></g>
<g id="mp-l8"><rect class="mb" x="73" y="1347" width="97" height="17" rx="4"/><text class="n w" x="121.5" y="1355.5">Th17_Act_Skin</text></g>
<g id="mp-l9"><rect class="mb" x="73" y="1389" width="97" height="17" rx="4"/><text class="n w" x="121.5" y="1397.5">KC_Diff_Skin</text></g>
<g id="mp-l10"><rect class="mb" x="73" y="1430" width="97" height="17" rx="4"/><text class="n w" x="121.5" y="1438.5">KC_Basal_Skin</text></g>
<g id="mp-ther"><rect class="or" x="68" y="1473" width="98" height="17" rx="3"/><text class="lg" x="117" y="1481.5">Therapy</text></g>
<g id="mp-r1"><rect class="lb" x="355" y="1111.5" width="98" height="17" rx="4"/><text class="n k" x="404" y="1120">TNF_Skin</text></g>
<g id="mp-r2"><rect class="lb" x="355" y="1155.5" width="98" height="17" rx="4"/><text class="n k" x="404" y="1164">IL17_Skin</text></g>
<g id="mp-r3"><rect class="lb" x="355" y="1200.5" width="98" height="17" rx="4"/><text class="n k" x="404" y="1209">IL22_Skin</text></g>
<g id="mp-r4"><rect class="lb" x="355" y="1244.5" width="98" height="17" rx="4"/><text class="n k" x="404" y="1253">IL23_Skin</text></g>
<g id="mp-r5"><rect class="lb" x="355" y="1289.5" width="98" height="17" rx="4"/><text class="n k" x="404" y="1298">CXCR3_L_Skin</text></g>
<g id="mp-r6"><rect class="lb" x="355" y="1334.5" width="98" height="17" rx="4"/><text class="n k" x="404" y="1343">Chemokines_Skin</text></g>
<g id="mp-r7"><rect class="lb" x="355" y="1379.5" width="98" height="17" rx="4"/><text class="n k" x="404" y="1388">Proinflam_Cyt_Skin</text></g>
<g id="mp-r8"><rect class="lb" x="355" y="1424.5" width="98" height="17" rx="4"/><text class="n k" x="404" y="1433">Antiinflam_Cyt_Skin</text></g>

<!-- ===== Ab binding ===== -->
<g id="ab-tnf"><rect class="lb" x="128" y="1538" width="98" height="17" rx="4"/><text class="n k" x="177" y="1546.5">TNF_Skin</text></g>
<g id="ab-ctnf"><rect class="or" x="128" y="1585" width="100" height="17" rx="4"/><text class="n k" x="178" y="1593.5">Conc_Anti_TNF_Skin</text></g>
<g id="ab-ptnf"><rect class="or" x="295" y="1562" width="98" height="17" rx="4"/><text class="n k" x="344" y="1570.5">TNF_Anti_TNF_Skin</text></g>
<g id="ab-il23"><rect class="lb" x="128" y="1664" width="98" height="17" rx="4"/><text class="n k" x="177" y="1672.5">IL23_Skin</text></g>
<g id="ab-cil23"><rect class="or" x="128" y="1710" width="100" height="17" rx="4"/><text class="n k" x="178" y="1718.5">Conc_Anti_IL23_Skin</text></g>
<g id="ab-pil23"><rect class="or" x="295" y="1687" width="98" height="17" rx="4"/><text class="n k" x="344" y="1695.5">IL23_Anti_IL23_Skin</text></g>
<g id="ab-il17"><rect class="lb" x="128" y="1791" width="98" height="17" rx="4"/><text class="n k" x="177" y="1799.5">IL17_Skin</text></g>
<g id="ab-cil17"><rect class="or" x="128" y="1844" width="100" height="17" rx="4"/><text class="n k" x="178" y="1852.5">Conc_Anti_IL17_Skin</text></g>
<g id="ab-pil17"><rect class="or" x="295" y="1818" width="98" height="17" rx="4"/><text class="n k" x="344" y="1826.5">IL17_Anti_IL17_Skin</text></g>

<!-- ===== Clinical endpoints ===== -->
<g id="ce-l1"><rect class="lb" x="1183" y="1720" width="97" height="17" rx="4"/><text class="n k" x="1231.5" y="1728.5">TNF_Skin</text></g>
<g id="ce-l2"><rect class="lb" x="1183" y="1741" width="97" height="17" rx="4"/><text class="n k" x="1231.5" y="1749.5">IL17_Skin</text></g>
<g id="ce-l3"><rect class="lb" x="1183" y="1762" width="97" height="17" rx="4"/><text class="n k" x="1231.5" y="1770.5">IL22_Skin</text></g>
<g id="ce-l4"><rect class="lb" x="1183" y="1783" width="97" height="17" rx="4"/><text class="n k" x="1231.5" y="1791.5">IL23_Skin</text></g>
<g id="ce-l5"><rect class="lb" x="1183" y="1804" width="97" height="17" rx="4"/><text class="n k" x="1231.5" y="1812.5">Proinflam_Cyt_Skin</text></g>
<g id="ce-l6"><rect class="lb" x="1183" y="1825" width="97" height="17" rx="4"/><text class="n k" x="1231.5" y="1833.5">Antiinflam_Cyt_Skin</text></g>
<g id="ce-l7"><rect class="mb" x="1183" y="1854" width="97" height="17" rx="4"/><text class="n w" x="1231.5" y="1862.5">KC_Basal_Skin</text></g>
<g id="ce-l8"><rect class="mb" x="1183" y="1875" width="97" height="17" rx="4"/><text class="n w" x="1231.5" y="1883.5">KC_Diff_Skin</text></g>
<g id="ce-l9"><rect class="mb" x="1183" y="1896" width="97" height="17" rx="4"/><text class="n w" x="1231.5" y="1904.5">CC_Skin</text></g>
<g id="ce-l10"><rect class="mb" x="1183" y="1918" width="97" height="17" rx="4"/><text class="n w" x="1231.5" y="1926.5">Mac_Inact_Skin</text></g>
<g id="ce-l11"><rect class="mb" x="1183" y="1939" width="97" height="17" rx="4"/><text class="n w" x="1231.5" y="1947.5">Mac_Act_Skin</text></g>
<g id="ce-l12"><rect class="mb" x="1183" y="1960" width="97" height="17" rx="4"/><text class="n w" x="1231.5" y="1968.5">DC_Inact_Skin</text></g>
<g id="ce-l13"><rect class="mb" x="1183" y="1981" width="97" height="17" rx="4"/><text class="n w" x="1231.5" y="1989.5">DC_Act_Skin</text></g>
<g id="ce-l14"><rect class="mb" x="1183" y="2002" width="97" height="17" rx="4"/><text class="n w" x="1231.5" y="2010.5">Th1_Tc1_Inact_Skin</text></g>
<g id="ce-l15"><rect class="mb" x="1183" y="2023" width="97" height="17" rx="4"/><text class="n w" x="1231.5" y="2031.5">Th1_Tc1_Act_Skin</text></g>
<g id="ce-l16"><rect class="mb" x="1183" y="2044" width="97" height="17" rx="4"/><text class="n w" x="1231.5" y="2052.5">Th17_Inact_Skin</text></g>
<g id="ce-l17"><rect class="mb" x="1183" y="2065" width="97" height="17" rx="4"/><text class="n w" x="1231.5" y="2073.5">Th17_Act_Skin</text></g>
<g id="ce-l18"><rect class="mb" x="1183" y="2086" width="97" height="17" rx="4"/><text class="n w" x="1231.5" y="2094.5">Treg_Inact_Skin</text></g>
<g id="ce-l19"><rect class="mb" x="1183" y="2107" width="97" height="17" rx="4"/><text class="n w" x="1231.5" y="2115.5">Treg_Act_Skin</text></g>
<g id="ce-ccq"><rect class="db" x="1434" y="1755" width="97" height="17" rx="4"/><text class="n w" x="1482.5" y="1763.5">CC_Quality</text></g>
<g id="ce-epi"><rect class="db" x="1434" y="1951" width="97" height="17" rx="4"/><text class="n w" x="1482.5" y="1959.5" textLength="95" lengthAdjust="spacingAndGlyphs">Epidermal_Thickness</text></g>
<g id="ce-vasc"><rect class="mb" x="1434" y="1980" width="97" height="17" rx="4"/><text class="n w" x="1482.5" y="1988.5">Vasc_Act</text></g>
<g id="ce-tnf"><rect class="lb" x="1434" y="2002" width="97" height="17" rx="4"/><text class="n k" x="1482.5" y="2010.5">TNF_Skin</text></g>
<g id="ce-pro"><rect class="lb" x="1434" y="2023" width="97" height="17" rx="4"/><text class="n k" x="1482.5" y="2031.5">Proinflam_Cyt_Skin</text></g>
<g id="ce-il17"><rect class="lb" x="1434" y="2045" width="97" height="17" rx="4"/><text class="n k" x="1482.5" y="2053.5">IL17_Skin</text></g>
<g id="ce-il22"><rect class="lb" x="1434" y="2067" width="97" height="17" rx="4"/><text class="n k" x="1482.5" y="2075.5">IL22_Skin</text></g>
<g id="ce-chem"><rect class="lb" x="1434" y="2088" width="97" height="17" rx="4"/><text class="n k" x="1482.5" y="2096.5">Chemokines_Skin</text></g>
<g id="ce-cd"><rect class="db" x="1434" y="2124" width="97" height="17" rx="4"/><text class="n w" x="1482.5" y="2132.5">Cell_Density</text></g>
<g id="ce-bf"><rect class="db" x="1625" y="1785" width="96" height="17" rx="4"/><text class="n w" x="1673" y="1793.5">Barrier_Function</text></g>
<g id="ce-sc"><rect class="db" x="1625" y="1885" width="96" height="17" rx="4"/><text class="n w" x="1673" y="1893.5">SPASI_Scaliness</text></g>
<g id="ce-th"><rect class="db" x="1625" y="1951" width="96" height="17" rx="4"/><text class="n w" x="1673" y="1959.5">SPASI_Thickness</text></g>
<g id="ce-rd"><rect class="db" x="1625" y="2016" width="96" height="17" rx="4"/><text class="n w" x="1673" y="2024.5">SPASI_Redness</text></g>
<g id="ce-bsa"><rect class="db" x="1625" y="2079" width="96" height="17" rx="4"/><text class="n w" x="1673" y="2087.5">Body_Surface_Area</text></g>
<g id="ce-spasi"><rect class="db" x="1827" y="1984" width="97" height="17" rx="4"/><text class="n w" x="1875.5" y="1992.5">SPASI</text></g>

<!-- Th17 highlight -->
<rect x="1109" y="1333" width="596" height="359" fill="#e8297d" fill-opacity="0.2" stroke="#e8297d" stroke-width="3.5"/>
<path d="M1705 1334L1963 829M1705 1692L1963 1711" stroke="#e8297d" stroke-width="3.5" fill="none"/>

<!-- Titles -->
<g id="titles">
<text class="ti nv" x="889" y="168" textLength="178" lengthAdjust="spacingAndGlyphs">Blood</text>
<text class="ti nv" x="247" y="286" textLength="218" lengthAdjust="spacingAndGlyphs">Legend</text>
<text class="ti og" x="1394" y="105" style="font-size:67px" textLength="546" lengthAdjust="spacingAndGlyphs">Pharmacokinetics</text>
<text class="ti nv" x="196" y="546" textLength="380" lengthAdjust="spacingAndGlyphs">Recruitment</text>
<text class="ti nv" x="808" y="725" textLength="286" lengthAdjust="spacingAndGlyphs">Lifecycles</text>
<text class="ti nv" x="57" y="1005" textLength="362" lengthAdjust="spacingAndGlyphs">Component</text>
<text class="ti nv" x="189" y="1072" textLength="101" lengthAdjust="spacingAndGlyphs">List</text>
<text class="ti pk" x="582" y="1017" textLength="419" lengthAdjust="spacingAndGlyphs">Keratinocytes</text>
<text class="ti pk" x="1188" y="1017" textLength="413" lengthAdjust="spacingAndGlyphs">Macrophages</text>
<text class="ti nv" x="226" y="1478" textLength="286" lengthAdjust="spacingAndGlyphs">Mediator</text>
<text class="ti nv" x="200" y="1544" textLength="338" lengthAdjust="spacingAndGlyphs">Production</text>
<text class="ti pk" x="735" y="1325" textLength="113" lengthAdjust="spacingAndGlyphs">DCs</text>
<text class="ti pk" x="1315" y="1325" textLength="159" lengthAdjust="spacingAndGlyphs">Tregs</text>
<text class="ti pk" x="658" y="1683" textLength="266" lengthAdjust="spacingAndGlyphs">Th1 cells</text>
<text class="ti pk" x="1244" y="1683" textLength="301" lengthAdjust="spacingAndGlyphs">Th17 cells</text>
<text class="ti og" x="120" y="1992" textLength="333" lengthAdjust="spacingAndGlyphs">Ab binding</text>
<text class="ti pk" x="628" y="2030" textLength="360" lengthAdjust="spacingAndGlyphs">Vasculature</text>
<text class="ti nv" x="916" y="2185" textLength="128" lengthAdjust="spacingAndGlyphs">Skin</text>
<text class="ti nv" x="1305" y="2216" textLength="544" lengthAdjust="spacingAndGlyphs">Clinical Endpoints</text>
</g>
</svg>
